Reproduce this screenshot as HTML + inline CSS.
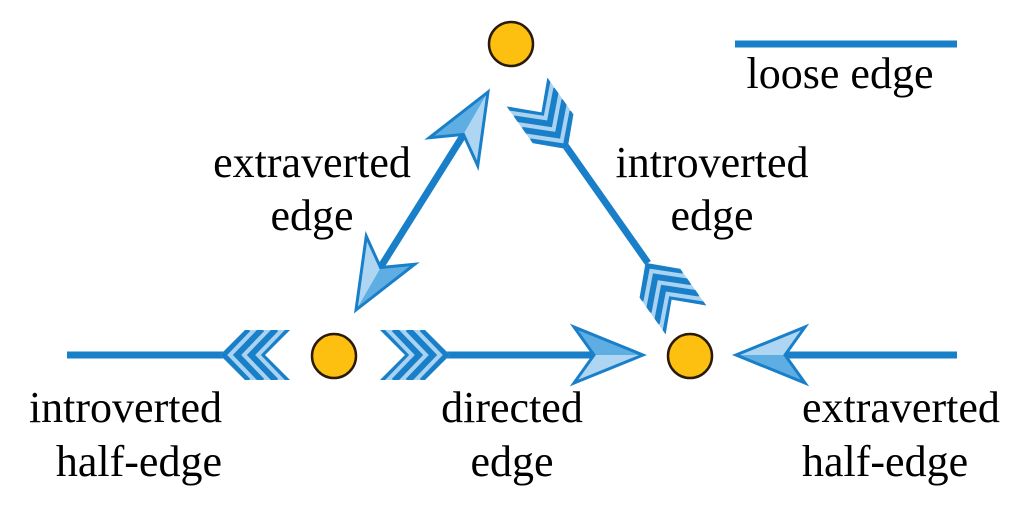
<!DOCTYPE html>
<html><head><meta charset="utf-8"><style>
html,body{margin:0;padding:0;background:#fff;}
svg{display:block;}
text{font-family:"Liberation Serif",serif;font-size:44px;fill:#000;}
</style></head><body>
<svg width="1024" height="512" viewBox="0 0 1024 512" xmlns="http://www.w3.org/2000/svg">
<defs>
<clipPath id="fc"><polygon points="0,-25 45,-25 70,0 45,25 0,25 25,0"/></clipPath>
<g id="fl">
 <g clip-path="url(#fc)">
  <rect x="-5" y="-30" width="80" height="60" fill="#a9d3f0"/>
  <g fill="none" stroke="#1a7fc9" stroke-width="6">
   <polyline points="0,-26 25,0 0,26"/>
   <polyline points="14,-26 39,0 14,26"/>
   <polyline points="28,-26 53,0 28,26"/>
   <polyline points="42,-26 67,0 42,26"/>
   <polyline points="56,-26 81,0 56,26"/>
  </g>
 </g>
</g>
<g id="ah">
 <polygon points="0,0 -69,-28 -49,0" fill="#5eaee3"/>
 <polygon points="0,0 -69,28 -49,0" fill="#aed6f2"/>
 <polygon points="0,0 -69,-28 -49,0 -69,28" fill="none" stroke="#1a7fc9" stroke-width="3" stroke-linejoin="miter"/>
</g>
</defs>
<g stroke="#1a7fc9" stroke-width="7" fill="none">
 <line x1="735" y1="44" x2="957" y2="44"/>
 <line x1="67" y1="355" x2="225" y2="355"/>
 <line x1="445" y1="355" x2="600" y2="355"/>
 <line x1="780" y1="355" x2="957" y2="355"/>
 <line x1="380" y1="268" x2="464" y2="134"/>
 <line x1="565" y1="145" x2="648" y2="263"/>
</g>
<use href="#fl" transform="translate(290,355) rotate(180)"/>
<use href="#fl" transform="translate(380,355)"/>
<use href="#ah" transform="translate(643,355)"/>
<use href="#ah" transform="translate(736,355) rotate(180)"/>
<use href="#ah" transform="translate(488,92) rotate(-60)"/>
<use href="#ah" transform="translate(356,310) rotate(120)"/>
<use href="#fl" transform="translate(527,92) rotate(54.7)"/>
<use href="#fl" transform="translate(686,320) rotate(234.7)"/>
<g fill="#fdc010" stroke="#2a1a0a" stroke-width="2.5">
 <circle cx="511" cy="44" r="22"/>
 <circle cx="334" cy="356" r="22"/>
 <circle cx="690" cy="356" r="22"/>
</g>
<text x="840" y="88" text-anchor="middle">loose edge</text>
<text x="312" y="177" text-anchor="middle">extraverted</text>
<text x="312" y="230" text-anchor="middle">edge</text>
<text x="712" y="177" text-anchor="middle">introverted</text>
<text x="712" y="230" text-anchor="middle">edge</text>
<text x="222" y="422" text-anchor="end">introverted</text>
<text x="222" y="476" text-anchor="end">half-edge</text>
<text x="512" y="422" text-anchor="middle">directed</text>
<text x="512" y="476" text-anchor="middle">edge</text>
<text x="802" y="422">extraverted</text>
<text x="802" y="476">half-edge</text>
</svg>
</body></html>
